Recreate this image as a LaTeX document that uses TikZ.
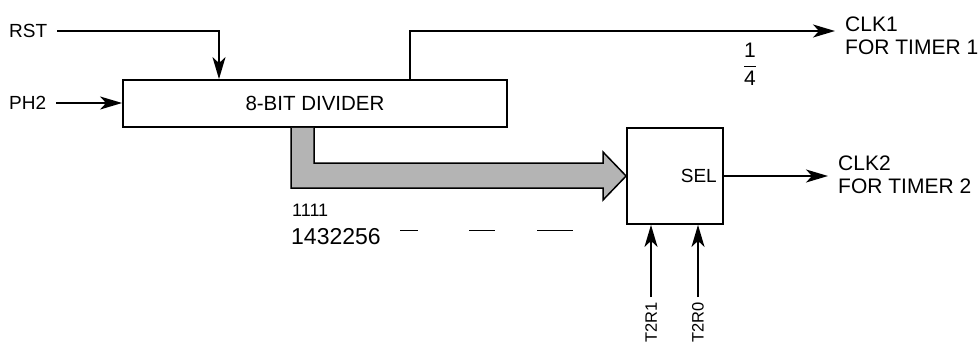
\documentclass[tikz,border=0pt]{standalone}
\usepackage{fontspec}
\setmainfont{Liberation Sans}
\usepackage{amsmath}
\usetikzlibrary{positioning,arrows.meta,calc}
\definecolor{busGray}{RGB}{180,180,180}
\tikzset{
    base/.style={font=\fontsize{20}{23}\selectfont, inner sep=0pt},
    block/.style={base, rectangle, draw, line width=1.8pt},
    pin/.style={base, anchor=west, align=left},
    sig/.style={-{Stealth[length=22pt,width=13pt,inset=6pt]}, line width=1.8pt},
    vpin/.style={base, font=\fontsize{16.5}{20}\selectfont, rotate=90, anchor=east}
}

\begin{document}
\begin{tikzpicture}[x=1pt, y=-1pt]
  \useasboundingbox (0,0) rectangle (980,343);

  % blocks
  \node[block, minimum width=384pt, minimum height=47pt, font=\fontsize{20.5}{24}\selectfont] (divider) at (315,103.5) {8-BIT DIVIDER};
  \node[block, minimum width=96pt, minimum height=96pt] (sel) at (675,176) {};
  \node[base, anchor=east, font=\fontsize{19}{22}\selectfont] (seltext) at (717,176) {SEL};

  % pins
  \node[pin, font=\fontsize{19}{22}\selectfont] (rst) at (9,31) {RST};
  \node[pin, font=\fontsize{19}{22}\selectfont] (ph2) at (9,103) {PH2};
  \node[pin, font=\fontsize{21}{23}\selectfont] (clk1) at (845,36) {CLK1\\FOR TIMER 1};
  \node[pin, font=\fontsize{21}{23}\selectfont] (clk2) at (838,175) {CLK2\\FOR TIMER 2};
  \node[vpin] (t2r1) at (651,302) {T2R1};
  \node[vpin] (t2r0) at (698,302) {T2R0};
  \node[base, font=\fontsize{21}{24}\selectfont] (quarter) at (750,64) {$\dfrac{\mbox{1}}{\mbox{4}}$};

  % divider ratios
  \node[base, anchor=west, font=\fontsize{18}{20}\selectfont] (sixteenths) at (292,210) {1111};
  \node[base, anchor=west, font=\fontsize{23}{26}\selectfont] (ratios) at (291,237) {1432256};
  \foreach \xa/\xb in {400/418, 469/495, 537/573}
    \draw[line width=1pt] (\xa,230) -- (\xb,230);

  % signals
  \coordinate (out1) at (835,31);
  \draw[sig] ([xshift=10pt]rst.east) -| ([xshift=-96pt]divider.north);
  \draw[sig] ([xshift=10pt]ph2.east) -- (ph2.east -| divider.west);
  \draw[sig] ([xshift=95pt]divider.north) |- (out1);
  \draw[sig] (sel.east) -- ([xshift=-10pt]clk2.west |- sel.east);
  \draw[sig] ([yshift=5pt]t2r1.east) -- (t2r1.east |- sel.south);
  \draw[sig] ([yshift=5pt]t2r0.east) -- (t2r0.east |- sel.south);

  % bus
  \filldraw[line width=1.5pt, fill=busGray] ([xshift=-24pt]divider.south) -- (291,188) -- (603,188)
    -- (603,200) -- (sel.west) -- (603,152) -- (603,163) -- (314,163) -- ([xshift=-1pt]divider.south);
\end{tikzpicture}
\end{document}
